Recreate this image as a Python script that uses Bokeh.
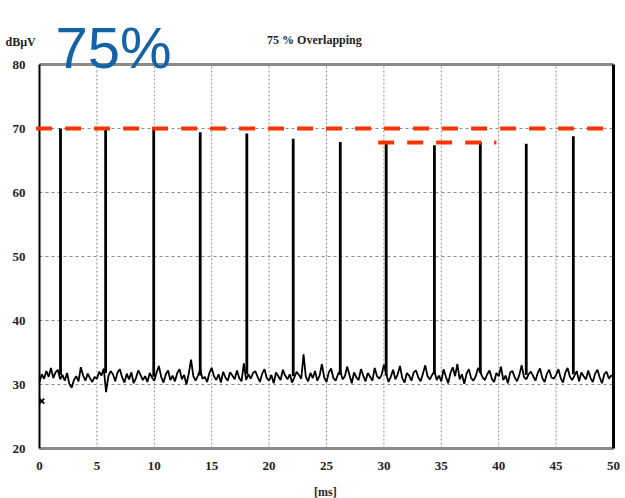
from bokeh.plotting import figure
from bokeh.models import Range1d
from bokeh.core.properties import value
from bokeh.embed import file_html
from bokeh.resources import INLINE

# ---- data ----
pulse_times = [1.83, 5.76, 9.95, 14.0, 18.06, 22.1, 26.2, 30.2, 34.4, 38.4, 42.4, 46.5]
pulse_peaks = [70.0, 70.0, 70.0, 69.4, 69.2, 68.4, 67.9, 67.6, 67.4, 67.9, 67.6, 68.8]
pulse_base = [31.5, 31.8, 31.2, 31.4, 31.6, 31.3, 31.5, 31.4, 31.6, 31.8, 31.5, 31.6]

noise_step = 0.2
noise_vals = [
    30.4, 31.6, 30.9, 32.1, 31.2, 32.6, 31.0, 31.9, 32.3, 30.8, 31.5, 30.6, 31.8, 30.1, 29.5, 30.7, 31.3, 30.5, 32.7, 31.4, 30.6, 31.7, 31.0, 30.4, 31.2,
    30.9, 32.0, 31.4, 32.5, 28.8, 31.3, 32.1, 31.6, 30.5, 31.9, 32.4, 31.1, 30.3, 31.7, 30.8, 31.9, 30.2, 31.0, 32.2, 31.5, 30.7, 31.3, 30.4, 31.8, 31.1,
    30.6, 31.9, 32.9, 31.2, 30.3, 31.6, 32.2, 30.7, 31.4, 30.5, 31.8, 32.4, 30.8, 31.5, 30.0, 31.7, 33.9, 31.3, 30.6, 31.4, 32.3, 30.9, 31.2, 30.4, 31.8,
    32.6, 31.3, 30.7, 31.6, 30.3, 32.0, 31.1, 30.6, 31.9, 31.4, 30.8, 32.2, 31.0, 30.5, 33.3, 30.7, 31.6, 30.9, 31.8, 32.1, 31.2, 30.4, 31.7, 32.4, 31.0,
    30.6, 31.5, 30.2, 31.9, 31.3, 30.7, 32.3, 31.4, 30.8, 31.6, 30.3, 31.1, 32.0, 31.5, 30.9, 34.7, 31.2, 30.5, 31.8, 31.0, 32.1, 30.6, 31.4, 33.2, 31.1,
    30.4, 31.9, 32.5, 31.0, 30.6, 31.6, 32.2, 30.8, 31.3, 32.8, 31.5, 30.2, 31.9, 31.1, 30.7, 32.4, 31.4, 30.5, 31.8, 31.2, 30.6, 32.6, 31.3, 30.9, 31.5,
    33.1, 31.7, 30.4, 31.2, 32.3, 30.8, 31.6, 32.9, 31.0, 30.3, 31.8, 31.4, 30.6, 31.9, 32.2, 31.1, 30.5, 31.7, 33.0, 31.3, 30.8, 31.5, 32.1, 30.7, 31.4,
    30.5, 32.4, 31.2, 30.2, 31.8, 32.7, 31.3, 33.2, 30.8, 31.6, 30.1, 31.7, 32.4, 31.0, 30.6, 31.3, 32.6, 31.9, 31.1, 30.7, 31.6, 32.2, 30.9, 30.4, 31.8,
    31.3, 32.8, 30.7, 31.4, 30.2, 31.9, 32.1, 31.1, 30.5, 31.5, 33.0, 31.2, 30.8, 31.6, 32.0, 31.3, 30.6, 31.8, 32.5, 31.0, 30.4, 31.7, 32.3, 31.1, 30.9,
    31.5, 32.4, 31.0, 30.3, 31.8, 32.6, 31.2, 30.7, 31.4, 32.1, 30.5, 31.9, 31.3, 30.8, 32.2, 31.0, 30.4, 31.7, 32.3, 31.1, 30.2, 31.6, 32.0, 30.9, 31.4,
    31.2,
]
noise_x = [round(i * noise_step, 3) for i in range(len(noise_vals))]

ref_x = [-0.3, 49.8]
ref_level = 70.0
ref2_x = [29.5, 39.8]
ref2_level = 67.8

marker_x = [0.2]
marker_y = [27.4]

x_ticks = [0, 5, 10, 15, 20, 25, 30, 35, 40, 45, 50]
y_ticks = [20, 30, 40, 50, 60, 70, 80]
x_lim = (0, 50)
y_lim = (20, 80)

big_label = "75%"
title_text = "75 % Overlapping"
y_label = "dBµV"
x_label = "[ms]"

FONT = "Liberation Sans Narrow"
TXT = "#222222"

# the plotting frame covers the whole canvas; the chart box, ticks and
# header texts are drawn as ordinary glyphs in data space
p = figure(width=625, height=498, output_backend="svg", toolbar_location=None,
           x_range=Range1d(-3.397, 51.045), y_range=Range1d(12.19, 90.0),
           min_border_left=0, min_border_right=0, min_border_top=0, min_border_bottom=0)
p.background_fill_color = "white"
p.border_fill_color = "white"
p.outline_line_color = None
p.xgrid.visible = False
p.ygrid.visible = False
p.xaxis.visible = False
p.yaxis.visible = False

# grid (dotted) inside the box
gx = x_ticks[1:-1]
gy = y_ticks[1:-1]
p.segment(x0=gx, y0=[y_lim[0]] * len(gx), x1=gx, y1=[y_lim[1]] * len(gx),
          line_color="#8c8c8c", line_width=1, line_dash="2 2")
p.segment(x0=[x_lim[0]] * len(gy), y0=gy, x1=[x_lim[1]] * len(gy), y1=gy,
          line_color="#8c8c8c", line_width=1, line_dash="3 3")

# box edges
p.segment(x0=[x_lim[0], x_lim[0]], y0=[y_lim[0], y_lim[1]], x1=[x_lim[1], x_lim[1]],
          y1=[y_lim[0], y_lim[1]], line_color="#8a8a8a", line_width=3)
p.segment(x0=[x_lim[0]], y0=[y_lim[0]], x1=[x_lim[0]], y1=[y_lim[1]], line_color="black", line_width=2)
p.segment(x0=[x_lim[1]], y0=[y_lim[0]], x1=[x_lim[1]], y1=[y_lim[1]], line_color="black", line_width=3)

# tick labels
p.text(x=[x_lim[0]] * len(y_ticks), y=y_ticks, text=[str(t) for t in y_ticks],
       x_offset=-14, text_align="right", text_baseline="middle",
       text_font=value(FONT), text_font_style="bold", text_font_size="13px", text_color=TXT)
p.text(x=x_ticks, y=[y_lim[0]] * len(x_ticks), text=[str(t) for t in x_ticks],
       y_offset=17, text_align="center", text_baseline="middle",
       text_font=value(FONT), text_font_style="bold", text_font_size="13px", text_color=TXT)
p.text(x=[24.9], y=[y_lim[0]], text=[x_label], y_offset=43, text_align="center",
       text_baseline="middle", text_font=value(FONT), text_font_style="bold",
       text_font_size="12px", text_color=TXT)

# trace
p.line(noise_x, noise_vals, line_color="black", line_width=1.8)
p.segment(x0=pulse_times, y0=pulse_base, x1=pulse_times, y1=pulse_peaks,
          line_color="black", line_width=2.8)
p.scatter(marker_x, marker_y, marker="x", size=7, line_color="black", line_width=1.8)

# red reference lines
p.line(ref_x, [ref_level, ref_level], line_color="#ff3300", line_width=4, line_dash="16 13")
p.line(ref2_x, [ref2_level, ref2_level], line_color="#ff3300", line_width=4, line_dash="16 13")

# header texts
p.text(x=[1.39], y=[82.66], text=[big_label], text_font=value("Liberation Sans"),
       text_font_size="58px", text_color="#1463a6", text_baseline="alphabetic", text_align="left")
p.text(x=[23.95], y=[83.9], text=[title_text], text_font=value(FONT), text_font_style="bold",
       text_font_size="12px", text_color=TXT, text_align="center", text_baseline="middle")
p.text(x=[-2.96], y=[83.44], text=[y_label], text_font=value(FONT), text_font_style="bold",
       text_font_size="12px", text_color=TXT, text_align="left", text_baseline="middle")

open("out.html", "w").write(file_html(p, INLINE))
